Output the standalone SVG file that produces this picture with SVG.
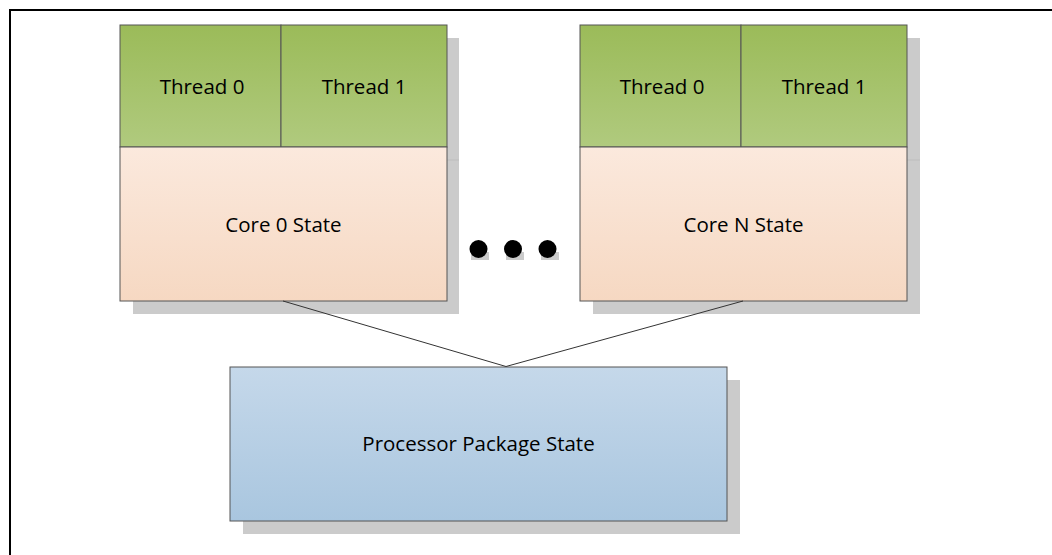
<svg xmlns="http://www.w3.org/2000/svg" width="1052" height="555" viewBox="0 0 1052 555">
<style>
.sh{fill:#cbcbcb}
.box{stroke:#555;stroke-width:1}
.lbl{font-family:"Open Sans","Liberation Sans",sans-serif;font-size:20.5px;fill:#000;text-anchor:middle;dominant-baseline:central}
.conn{stroke:#333;stroke-width:1;fill:none}
</style>
<defs>
<linearGradient id="gG" x1="0" y1="0" x2="0" y2="1"><stop offset="0" stop-color="#9bbb59"/><stop offset="1" stop-color="#b0ca7e"/></linearGradient>
<linearGradient id="gO" x1="0" y1="0" x2="0" y2="1"><stop offset="0" stop-color="#fbe9dd"/><stop offset="1" stop-color="#f6d8c2"/></linearGradient>
<linearGradient id="gB" x1="0" y1="0" x2="0" y2="1"><stop offset="0" stop-color="#c5d8ea"/><stop offset="1" stop-color="#a9c6df"/></linearGradient>
</defs>
<rect width="1052" height="555" fill="#fff"/>
<path d="M10 555 V10 H1052" fill="none" stroke="#000" stroke-width="2"/>
<g id="core0">
<rect class="sh" x="133" y="38" width="326" height="276"/>
<line x1="447" y1="160" x2="459" y2="160" stroke="#bdbdbd"/>
<rect class="box" x="120" y="25" width="161" height="122" fill="url(#gG)"/>
<rect class="box" x="281" y="25" width="166" height="122" fill="url(#gG)"/>
<rect class="box" x="120" y="147" width="327" height="154" fill="url(#gO)"/>
<text class="lbl" x="202" y="86">Thread 0</text>
<text class="lbl" x="364" y="86">Thread 1</text>
<text class="lbl" x="283.5" y="224">Core 0 State</text>
</g>
<g id="dots">
<rect class="sh" x="471" y="252" width="18" height="8"/>
<rect class="sh" x="506" y="252" width="18" height="8"/>
<rect class="sh" x="541" y="252" width="18" height="8"/>
<circle cx="478.5" cy="249" r="9" fill="#000"/>
<circle cx="513" cy="249" r="9" fill="#000"/>
<circle cx="547.5" cy="249" r="9" fill="#000"/>
</g>
<g id="coreN">
<rect class="sh" x="593" y="38" width="327" height="276"/>
<line x1="907" y1="160" x2="920" y2="160" stroke="#bdbdbd"/>
<rect class="box" x="580" y="25" width="161" height="122" fill="url(#gG)"/>
<rect class="box" x="741" y="25" width="166" height="122" fill="url(#gG)"/>
<rect class="box" x="580" y="147" width="327" height="154" fill="url(#gO)"/>
<text class="lbl" x="662" y="86">Thread 0</text>
<text class="lbl" x="824" y="86">Thread 1</text>
<text class="lbl" x="743.5" y="224">Core N State</text>
</g>
<g id="package">
<rect class="sh" x="243" y="380" width="497" height="154"/>
<rect class="box" x="230" y="367" width="497" height="154" fill="url(#gB)"/>
<text class="lbl" x="478.5" y="443">Processor Package State</text>
</g>
<g id="connectors">
<line class="conn" x1="283" y1="301" x2="506" y2="366.5"/>
<line class="conn" x1="743" y1="301" x2="506" y2="366.5"/>
</g>
</svg>
